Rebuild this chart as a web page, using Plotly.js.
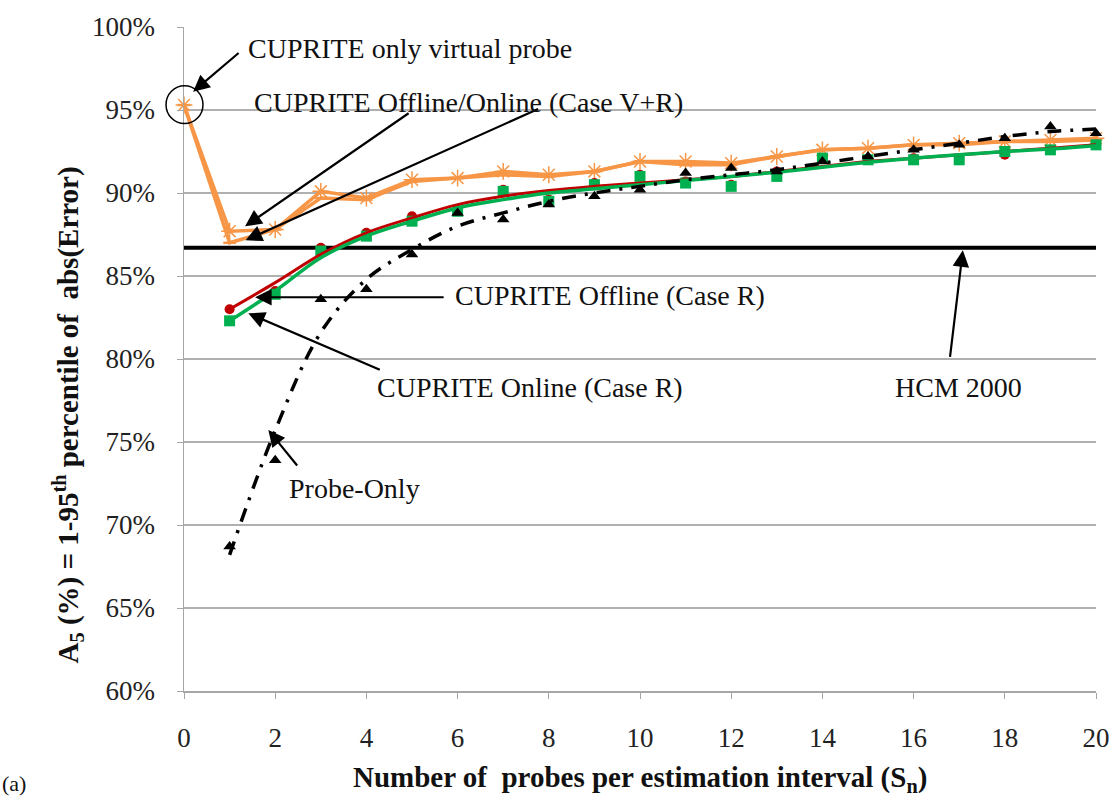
<!DOCTYPE html>
<html>
<head>
<meta charset="utf-8">
<script src="https://cdn.plot.ly/plotly-3.0.1.min.js"></script>
<style>
    body { margin: 0; background: #fff; }
    #grafico { width: 1113px; height: 798px; }
</style>
</head>
<body>
<div id="grafico"></div>
<script>
// Number of probes per estimation interval
const probes = [0, 1, 2, 3, 4, 5, 6, 7, 8, 9, 10, 11, 12, 13, 14, 15, 16, 17, 18, 19, 20];
const probesR = [1, 2, 3, 4, 5, 6, 7, 8, 9, 10, 11, 12, 13, 14, 15, 16, 17, 18, 19, 20];

// CUPRITE Offline/Online (Case V+R), A5 in %
const vrOnline = [95.3, 87.7, 87.8, 90.1, 89.7, 90.8, 90.9, 91.3, 91.1, 91.3, 91.9, 91.9, 91.8, 92.2, 92.6, 92.7, 92.9, 93.0, 93.1, 93.2, 93.3];
const vrOffline = [95.3, 87.0, 87.8, 89.7, 89.6, 90.7, 90.9, 91.1, 91.0, 91.3, 91.9, 91.7, 91.7, 92.2, 92.6, 92.7, 92.9, 92.9, 93.1, 93.1, 93.2];

// CUPRITE Offline (Case R)
const offlineR = [83.0, 84.1, 86.7, 87.6, 88.6, 89.0, 90.2, 89.6, 90.6, 91.1, 90.7, 90.5, 91.3, 92.1, 92.0, 92.1, 92.1, 92.3, 92.6, 92.9];
const offlineRTrend = [83.0, 84.6, 86.3, 87.6, 88.5, 89.3, 89.8, 90.15, 90.4, 90.6, 90.8, 91.0, 91.3, 91.6, 91.9, 92.1, 92.3, 92.5, 92.7, 92.9];

// CUPRITE Online (Case R)
const onlineR = [82.3, 83.9, 86.5, 87.4, 88.3, 88.9, 90.1, 89.5, 90.5, 91.0, 90.6, 90.4, 91.0, 92.1, 92.0, 92.0, 92.0, 92.5, 92.6, 92.9];
const onlineRTrend = [82.3, 84.1, 86.1, 87.4, 88.3, 89.1, 89.6, 90.0, 90.25, 90.5, 90.75, 91.0, 91.25, 91.55, 91.85, 92.1, 92.3, 92.5, 92.65, 92.85];

// Probe-Only
const probeOnly = [68.7, 73.9, 83.6, 84.2, 86.3, 88.8, 88.4, 89.3, 89.8, 90.2, 91.2, 91.5, 91.3, 91.9, 92.2, 92.6, 92.9, 93.3, 94.0, 93.6];
const probeOnlyTrend = [68.2, 75.7, 81.6, 84.8, 86.6, 88.0, 88.8, 89.5, 90.0, 90.4, 90.8, 91.1, 91.4, 91.8, 92.2, 92.6, 93.0, 93.4, 93.7, 93.85];

// HCM 2000
const hcmX = [0, 20];
const hcmY = [86.7, 86.7];

const fonte = 'Liberation Serif, Times New Roman, serif';

const hcm = {
    x: hcmX, y: hcmY, type: 'scatter', mode: 'lines',
    line: { color: '#000', width: 4 }, cliponaxis: false
};

const trace1 = {
    x: probes, y: vrOffline, type: 'scatter', mode: 'lines+markers',
    line: { color: '#f79646', width: 3.5 },
    marker: { symbol: 'line-ew-open', size: 9, line: { color: '#f79646', width: 2.5 } },
    cliponaxis: false
};

const trace2 = {
    x: probes, y: vrOnline, type: 'scatter', mode: 'lines+markers',
    line: { color: '#f79646', width: 3.5 },
    marker: { symbol: 'asterisk-open', size: 14, line: { color: '#4bacc6', width: 1.5 } },
    cliponaxis: false
};

const trace3 = {
    x: probesR, y: offlineR, type: 'scatter', mode: 'markers',
    marker: { symbol: 'circle', size: 10, color: '#c00000' },
    cliponaxis: false
};

const trace4 = {
    x: probesR, y: onlineR, type: 'scatter', mode: 'markers',
    marker: { symbol: 'square', size: 11, color: '#00b050' },
    cliponaxis: false
};

const trace5 = {
    x: probesR, y: offlineRTrend, type: 'scatter', mode: 'lines',
    line: { color: '#c00000', width: 3, shape: 'spline' },
    cliponaxis: false
};

const trace6 = {
    x: probesR, y: onlineRTrend, type: 'scatter', mode: 'lines',
    line: { color: '#00b050', width: 3.5, shape: 'spline' },
    cliponaxis: false
};

const trace7 = {
    x: probesR, y: probeOnly, type: 'scatter', mode: 'markers',
    marker: { symbol: 'triangle-up', size: 11, color: '#000' },
    cliponaxis: false
};

const trace8 = {
    x: probesR, y: probeOnlyTrend, type: 'scatter', mode: 'lines',
    line: { color: '#000', width: 3.5, dash: '14px,9px,3px,9px', shape: 'spline' },
    cliponaxis: false
};

// Arrow-only annotation (head in data units, tail offset in px)
function seta(x, y, ax, ay) {
    return {
        x: x, y: y, xref: 'x', yref: 'y', ax: ax, ay: ay,
        text: '', showarrow: true, arrowhead: 2, arrowsize: 1.5,
        arrowwidth: 2.2, arrowcolor: '#000'
    };
}

function rotulo(texto, x, y) {
    return {
        x: x, y: y, xref: 'x', yref: 'y', text: texto, showarrow: false,
        xanchor: 'left', yanchor: 'middle',
        font: { family: fonte, size: 28, color: '#111' }
    };
}

const annotations = [
    seta(0.2, 96.1, 47, -40),
    seta(1.34, 88.0, 165, -114),
    seta(1.35, 87.15, 294, -132),
    seta(1.56, 83.72, 190, 0),
    seta(1.41, 82.75, 133, 57),
    seta(17.08, 86.55, -13, 108),
    seta(1.85, 75.72, 30, 37),
    rotulo('CUPRITE only virtual probe', 1.36, 98.73),
    rotulo('CUPRITE Offline/Online (Case V+R)', 1.50, 95.48),
    rotulo('CUPRITE Offline (Case R)', 5.9, 83.8),
    rotulo('CUPRITE Online (Case R)', 4.19, 78.31),
    rotulo('HCM 2000', 15.55, 78.31),
    rotulo('Probe-Only', 2.26, 72.17),
    // axis titles
    {
        x: 0.5, y: 0, xref: 'paper', yref: 'paper', yshift: -88,
        text: '<b>Number of  probes per estimation interval (S<sub>n</sub>)</b>',
        showarrow: false, xanchor: 'center', yanchor: 'middle',
        font: { family: fonte, size: 29, color: '#111' }
    },
    {
        x: 0, y: 0.415, xref: 'paper', yref: 'paper', xshift: -116,
        text: '<b>A<sub>5</sub> (%) = 1-95<sup>th</sup> percentile of  abs(Error)</b>',
        showarrow: false, textangle: -90, xanchor: 'center', yanchor: 'middle',
        font: { family: fonte, size: 29, color: '#111' }
    },
    {
        x: 0, y: 0, xref: 'paper', yref: 'paper', xshift: -184, yshift: -107,
        text: '(a)', showarrow: false, xanchor: 'left', yanchor: 'bottom',
        font: { family: fonte, size: 22, color: '#111' }
    }
];

const layout = {
    width: 1113,
    height: 798,
    margin: { l: 184, r: 17, t: 27, b: 107 },
    paper_bgcolor: '#fff',
    plot_bgcolor: '#fff',
    showlegend: false,
    font: { family: fonte, color: '#222' },
    xaxis: {
        range: [0, 20],
        dtick: 2,
        tick0: 0,
        showgrid: false,
        zeroline: false,
        showline: true,
        linecolor: '#a6a6a6',
        linewidth: 1.5,
        ticks: 'outside',
        ticklen: 6,
        tickcolor: '#a6a6a6',
        ticklabelstandoff: 16,
        tickfont: { family: fonte, size: 27, color: '#222' }
    },
    yaxis: {
        range: [60, 100],
        dtick: 5,
        tick0: 60,
        ticksuffix: '%',
        showgrid: true,
        gridcolor: '#b0b0b0',
        gridwidth: 1.5,
        zeroline: false,
        showline: true,
        linecolor: '#a6a6a6',
        linewidth: 1.5,
        ticks: 'outside',
        ticklen: 6,
        tickcolor: '#a6a6a6',
        ticklabelstandoff: 16,
        tickfont: { family: fonte, size: 27, color: '#222' }
    },
    shapes: [{
        // circle round the virtual-probe-only point, paper refs so it is not clipped
        type: 'circle', xref: 'paper', yref: 'paper',
        x0: -0.0197, x1: 0.0208, y0: 0.8545, y1: 0.9115,
        line: { color: '#000', width: 1.5 }
    }],
    annotations: annotations
};

Plotly.newPlot('grafico', [hcm, trace1, trace2, trace3, trace4, trace5, trace6, trace7, trace8], layout, { staticPlot: true });
</script>
</body>
</html>
